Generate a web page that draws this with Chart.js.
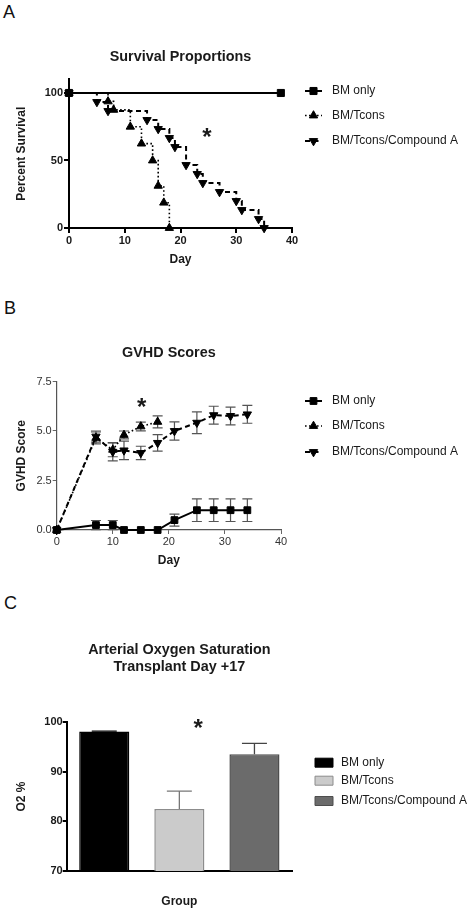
<!DOCTYPE html>
<html>
<head>
<meta charset="utf-8">
<script src="https://cdn.jsdelivr.net/npm/chart.js@4.4.1/dist/chart.umd.min.js"></script>
<style>
  html, body { margin: 0; padding: 0; background: #fff; }
  #wrap { position: relative; width: 472px; height: 912px; overflow: hidden; }
  canvas { position: absolute; left: 0; }
  .plabel { position: absolute; font: 18px/18px "Liberation Sans", Arial, sans-serif; color: #111; }
</style>
</head>
<body>
<div id="wrap">
  <div class="plabel" style="left:3px;top:2.6px">A</div>
  <div class="plabel" style="left:4px;top:299.3px">B</div>
  <div class="plabel" style="left:4px;top:594.3px">C</div>
  <canvas id="cA" width="472" height="280" style="top:0px"></canvas>
  <canvas id="cB" width="472" height="300" style="top:280px"></canvas>
  <canvas id="cC" width="472" height="332" style="top:580px"></canvas>
</div>
<script>
// ---------- DATA ----------
const seriesNames = ['BM only', 'BM/Tcons', 'BM/Tcons/Compound A'];

// Panel A: survival proportions (Kaplan-Meier steps)
const survDaysBM = [0, 38];
const survBM = [100, 100];
const survDaysTcons = [0, 7, 8, 11, 13, 15, 16, 17, 18];
const survTcons = [100, 93.75, 87.5, 75, 62.5, 50, 31.25, 18.75, 0];
const survDaysCmpA = [0, 5, 7, 14, 16, 18, 19, 21, 23, 24, 27, 30, 31, 34, 35];
const survCmpA = [100, 93.33, 86.67, 80, 73.33, 66.67, 60, 46.67, 40, 33.33, 26.67, 20, 13.33, 6.67, 0];
const survXTicks = [0, 10, 20, 30, 40];
const survYTicks = [0, 50, 100];
const survStar = [24.75, 70.9];

// Panel B: GVHD scores (mean +/- error)
const gvhdDaysBM = [0, 7, 10, 12, 15, 18, 21, 25, 28, 31, 34];
const gvhdBM = [0, 0.25, 0.25, 0, 0, 0, 0.5, 1, 1, 1, 1];
const gvhdBMErr = [0, 0.23, 0.23, 0, 0, 0, 0.3, 0.57, 0.57, 0.57, 0.57];
const gvhdDaysTcons = [0, 7, 10, 12, 15, 18];
const gvhdTcons = [0, 4.65, 4.05, 4.8, 5.23, 5.46];
const gvhdTconsErr = [0, 0.3, 0.35, 0.2, 0.22, 0.3];
const gvhdDaysCmpA = [0, 7, 10, 12, 15, 18, 21, 25, 28, 31, 34];
const gvhdCmpA = [0, 4.72, 3.95, 4.02, 3.89, 4.4, 5.0, 5.42, 5.8, 5.76, 5.84];
const gvhdCmpAErr = [0, 0.28, 0.46, 0.47, 0.34, 0.42, 0.46, 0.55, 0.45, 0.45, 0.45];
const gvhdXTicks = [0, 10, 20, 30, 40];
const gvhdYTicks = [0, 2.5, 5, 7.5];
const gvhdStar = [15.16, 6.46];

// Panel C: arterial oxygen saturation
const o2Mean = [98.1, 82.5, 93.5];
const o2Err = [0.1, 3.6, 2.2];
const o2YTicks = [70, 80, 90, 100];
const o2Star = [1.25, 99.8];

// ---------- STYLE HELPERS ----------
const FAM = '"Liberation Sans", Arial, sans-serif';
const TXT = '#1a1a1a';

function pts(xs, ys) { return xs.map((x, i) => ({ x: x, y: ys[i] })); }
function fixedTicks(arr) { return s => { s.ticks = arr.map(v => ({ value: v })); }; }

// side legend drawn from dataset styles
const sideLegend = {
  id: 'sideLegend',
  afterDraw(chart, args, o) {
    if (!o || !o.rows) return;
    const ctx = chart.ctx;
    ctx.save();
    ctx.font = '12px ' + FAM;
    ctx.textBaseline = 'middle';
    ctx.textAlign = 'left';
    if (o.type === 'line') {
      chart.data.datasets.forEach((ds, i) => {
        const y = o.rows[i];
        ctx.save();
        ctx.strokeStyle = ds.borderColor;
        ctx.lineWidth = ds.borderWidth;
        ctx.setLineDash(ds.borderDash || []);
        ctx.beginPath(); ctx.moveTo(o.x0, y); ctx.lineTo(o.x1, y); ctx.stroke();
        ctx.restore();
        ctx.save();
        ctx.fillStyle = ds.pointBackgroundColor;
        ctx.strokeStyle = ds.pointBorderColor;
        ctx.lineWidth = 1;
        Chart.helpers.drawPoint(ctx, { pointStyle: ds.pointStyle, rotation: ds.pointRotation || 0, radius: ds.pointRadius, borderWidth: 1 }, (o.x0 + o.x1) / 2, y);
        ctx.restore();
        ctx.fillStyle = TXT;
        ctx.fillText(ds.label, o.tx, y);
      });
    } else {
      const ds = chart.data.datasets[0];
      chart.data.labels.forEach((lab, i) => {
        const y = o.rows[i];
        ctx.fillStyle = ds.backgroundColor[i];
        ctx.strokeStyle = ds.borderColor[i];
        ctx.lineWidth = 1;
        ctx.beginPath();
        ctx.rect(o.x0, y - o.h / 2, o.x1 - o.x0, o.h);
        ctx.fill(); ctx.stroke();
        ctx.fillStyle = TXT;
        ctx.fillText(lab, o.tx, y);
      });
    }
    ctx.restore();
  }
};

// significance star positioned via scales
const starMark = {
  id: 'starMark',
  afterDraw(chart, args, o) {
    if (!o || !o.at) return;
    const ctx = chart.ctx;
    const xs = chart.scales.x, ys = chart.scales.y;
    const cx = xs.getPixelForValue(o.at[0]);
    const cy = ys.getPixelForValue(o.at[1]);
    ctx.save();
    ctx.font = 'bold ' + o.size + 'px ' + FAM;
    ctx.fillStyle = TXT;
    ctx.textAlign = 'center';
    ctx.textBaseline = 'alphabetic';
    const m = ctx.measureText('*');
    const asc = m.actualBoundingBoxAscent, desc = m.actualBoundingBoxDescent;
    ctx.fillText('*', cx, cy + (asc - desc) / 2);
    ctx.restore();
  }
};

// error bars (symmetric for lines, upward for bars)
const errorBars = {
  id: 'errorBars',
  beforeDatasetsDraw(chart, args, o) {
    if (!o || o.mode !== 'both') return;
    const ctx = chart.ctx, xs = chart.scales.x, ys = chart.scales.y;
    ctx.save();
    ctx.strokeStyle = o.color; ctx.lineWidth = o.width;
    chart.data.datasets.forEach(ds => {
      const err = ds.errorValues; if (!err) return;
      ds.data.forEach((p, i) => {
        const e = err[i]; if (!e) return;
        const px = xs.getPixelForValue(p.x);
        const y1 = ys.getPixelForValue(p.y + e), y2 = ys.getPixelForValue(p.y - e);
        ctx.beginPath();
        ctx.moveTo(px, y1); ctx.lineTo(px, y2);
        ctx.moveTo(px - o.cap, y1); ctx.lineTo(px + o.cap, y1);
        ctx.moveTo(px - o.cap, y2); ctx.lineTo(px + o.cap, y2);
        ctx.stroke();
      });
    });
    ctx.restore();
  },
  afterDatasetsDraw(chart, args, o) {
    if (!o || o.mode !== 'up') return;
    const ctx = chart.ctx, xs = chart.scales.x, ys = chart.scales.y;
    const ds = chart.data.datasets[0];
    ctx.save();
    ctx.lineWidth = o.width;
    ds.data.forEach((v, i) => {
      const e = ds.errorValues[i];
      const px = xs.getPixelForValue(i);
      const y0 = ys.getPixelForValue(v), y1 = ys.getPixelForValue(v + e);
      ctx.strokeStyle = o.colors[i];
      ctx.beginPath();
      ctx.moveTo(px, y0); ctx.lineTo(px, y1);
      ctx.moveTo(px - o.cap, y1); ctx.lineTo(px + o.cap, y1);
      ctx.stroke();
    });
    ctx.restore();
  }
};

Chart.register(sideLegend, starMark, errorBars);
Chart.defaults.font.family = FAM;
Chart.defaults.color = TXT;

function lineDS(label, data, kind, extra) {
  const base = {
    label: label, data: data, borderColor: '#000', backgroundColor: '#000',
    pointBackgroundColor: '#000', pointBorderColor: '#000', pointBorderWidth: 1,
    clip: false, tension: 0, fill: false
  };
  if (kind === 0) Object.assign(base, { borderWidth: 2, borderDash: [], pointStyle: 'rect', pointRadius: 5 });
  if (kind === 1) Object.assign(base, { borderWidth: 1.6, borderDash: [1.6, 2.4], pointStyle: 'triangle', pointRadius: 4.8 });
  if (kind === 2) Object.assign(base, { borderWidth: 2, borderDash: [5, 3.5], pointStyle: 'triangle', pointRotation: 180, pointRadius: 4.8 });
  return Object.assign(base, extra || {});
}

const commonOpts = {
  responsive: false, animation: false, events: [],
};

// ---------- PANEL A ----------
new Chart(document.getElementById('cA'), {
  type: 'line',
  data: {
    datasets: [
      lineDS(seriesNames[0], pts(survDaysBM, survBM), 0, { stepped: 'before' }),
      lineDS(seriesNames[1], pts(survDaysTcons, survTcons), 1, { stepped: 'before' }),
      lineDS(seriesNames[2], pts(survDaysCmpA, survCmpA), 2, { stepped: 'before' })
    ]
  },
  options: Object.assign({}, commonOpts, {
    layout: { padding: { left: 0, right: 180, top: 48.6, bottom: 0 } },
    plugins: {
      legend: { display: false }, tooltip: { enabled: false },
      title: { display: true, fullSize: false, text: 'Survival Proportions', color: TXT,
        font: { size: 14.4, weight: 'bold', family: FAM, lineHeight: 1.2 }, padding: { top: 0, bottom: 13.6 } },
      sideLegend: { type: 'line', x0: 305, x1: 322, tx: 332, rows: [91, 115.5, 141] },
      starMark: { at: survStar, size: 24 }
    },
    scales: {
      x: { type: 'linear', min: 0, max: 40, afterBuildTicks: fixedTicks(survXTicks),
        afterFit: s => { s.height = 52; },
        grid: { display: true, drawOnChartArea: false, drawTicks: true, tickLength: 5, color: '#000', lineWidth: 2 },
        border: { display: true, color: '#000', width: 2 },
        ticks: { font: { size: 11, weight: 'bold', family: FAM }, color: TXT, padding: 1, maxRotation: 0 },
        title: { display: true, text: 'Day', font: { size: 12, weight: 'bold', family: FAM, lineHeight: 1.2 }, color: TXT, padding: { top: 0, bottom: 12.8 } } },
      y: { type: 'linear', min: 0, max: 110, afterBuildTicks: fixedTicks(survYTicks),
        afterFit: s => { s.width = 69; },
        grid: { display: true, drawOnChartArea: false, drawTicks: true, tickLength: 5, color: '#000', lineWidth: 2 },
        border: { display: true, color: '#000', width: 2 },
        ticks: { font: { size: 11, weight: 'bold', family: FAM }, color: TXT, padding: 1 },
        title: { display: true, text: 'Percent Survival', font: { size: 12, weight: 'bold', family: FAM, lineHeight: 1.2 }, color: TXT, padding: { top: 14.8, bottom: 0 } } }
    }
  })
});

// ---------- PANEL B ----------
new Chart(document.getElementById('cB'), {
  type: 'line',
  data: {
    datasets: [
      lineDS(seriesNames[0], pts(gvhdDaysBM, gvhdBM), 0, { errorValues: gvhdBMErr, pointRadius: 4.8 }),
      lineDS(seriesNames[1], pts(gvhdDaysTcons, gvhdTcons), 1, { errorValues: gvhdTconsErr }),
      lineDS(seriesNames[2], pts(gvhdDaysCmpA, gvhdCmpA), 2, { errorValues: gvhdCmpAErr })
    ]
  },
  options: Object.assign({}, commonOpts, {
    layout: { padding: { left: 0, right: 191, top: 64.3, bottom: 0 } },
    plugins: {
      legend: { display: false }, tooltip: { enabled: false },
      title: { display: true, fullSize: false, text: 'GVHD Scores', color: TXT,
        font: { size: 14.4, weight: 'bold', family: FAM, lineHeight: 1.2 }, padding: { top: 0, bottom: 19.9 } },
      sideLegend: { type: 'line', x0: 305, x1: 322, tx: 332, rows: [121, 146, 172] },
      starMark: { at: gvhdStar, size: 24 },
      errorBars: { mode: 'both', color: '#555', width: 1.2, cap: 5 }
    },
    scales: {
      x: { type: 'linear', min: 0, max: 40, afterBuildTicks: fixedTicks(gvhdXTicks),
        afterFit: s => { s.height = 50; },
        grid: { display: true, drawOnChartArea: false, drawTicks: true, tickLength: 4, color: '#666', lineWidth: 1 },
        border: { display: true, color: '#555', width: 1.2 },
        ticks: { font: { size: 11, family: FAM }, color: '#333', padding: 1, maxRotation: 0 },
        title: { display: true, text: 'Day', font: { size: 12, weight: 'bold', family: FAM, lineHeight: 1.2 }, color: TXT, padding: { top: 0, bottom: 12.1 } } },
      y: { type: 'linear', min: 0, max: 7.5, afterBuildTicks: fixedTicks(gvhdYTicks),
        afterFit: s => { s.width = 56.7; },
        grid: { display: true, drawOnChartArea: false, drawTicks: true, tickLength: 4, color: '#666', lineWidth: 1 },
        border: { display: true, color: '#555', width: 1.2 },
        ticks: { font: { size: 11, family: FAM }, color: '#333', padding: 1, callback: v => Number(v).toFixed(1) },
        title: { display: true, text: 'GVHD Score', font: { size: 12, weight: 'bold', family: FAM, lineHeight: 1.2 }, color: TXT, padding: { top: 14.8, bottom: 0 } } }
    }
  })
});

// ---------- PANEL C ----------
new Chart(document.getElementById('cC'), {
  type: 'bar',
  data: {
    labels: seriesNames,
    datasets: [{
      label: 'O2 %', data: o2Mean, errorValues: o2Err,
      backgroundColor: ['#000000', '#cbcbcb', '#6b6b6b'],
      borderColor: ['#000000', '#8c8c8c', '#4d4d4d'],
      borderWidth: 1.5, barPercentage: 0.667, categoryPercentage: 1
    }]
  },
  options: Object.assign({}, commonOpts, {
    layout: { padding: { left: 0, right: 180, top: 61.6, bottom: 0 } },
    plugins: {
      legend: { display: false }, tooltip: { enabled: false },
      title: { display: true, fullSize: false, text: ['Arterial Oxygen Saturation', 'Transplant Day +17'], color: TXT,
        font: { size: 14.4, weight: 'bold', family: FAM, lineHeight: 1.16 }, padding: { top: 0, bottom: 47.1 } },
      sideLegend: { type: 'box', x0: 315, x1: 333, h: 9, tx: 341, rows: [182.7, 200.7, 221] },
      starMark: { at: o2Star, size: 24 },
      errorBars: { mode: 'up', colors: ['#000', '#777', '#444'], width: 1.3, cap: 12.5 }
    },
    scales: {
      x: { type: 'category', offset: true,
        afterFit: s => { s.height = 41; },
        grid: { display: false },
        border: { display: true, color: '#000', width: 2 },
        ticks: { display: false },
        title: { display: true, text: 'Group', font: { size: 12, weight: 'bold', family: FAM, lineHeight: 1.2 }, color: TXT, padding: { top: 0, bottom: 3.1 } } },
      y: { type: 'linear', min: 70, max: 100, afterBuildTicks: fixedTicks(o2YTicks),
        afterFit: s => { s.width = 66.7; },
        grid: { display: true, drawOnChartArea: false, drawTicks: true, tickLength: 4, color: '#000', lineWidth: 2 },
        border: { display: true, color: '#000', width: 2 },
        ticks: { font: { size: 11, weight: 'bold', family: FAM }, color: TXT, padding: 0 },
        title: { display: true, text: 'O2 %', font: { size: 12, weight: 'bold', family: FAM, lineHeight: 1.2 }, color: TXT, padding: { top: 14.5, bottom: 0 } } }
    }
  })
});
</script>
</body>
</html>
